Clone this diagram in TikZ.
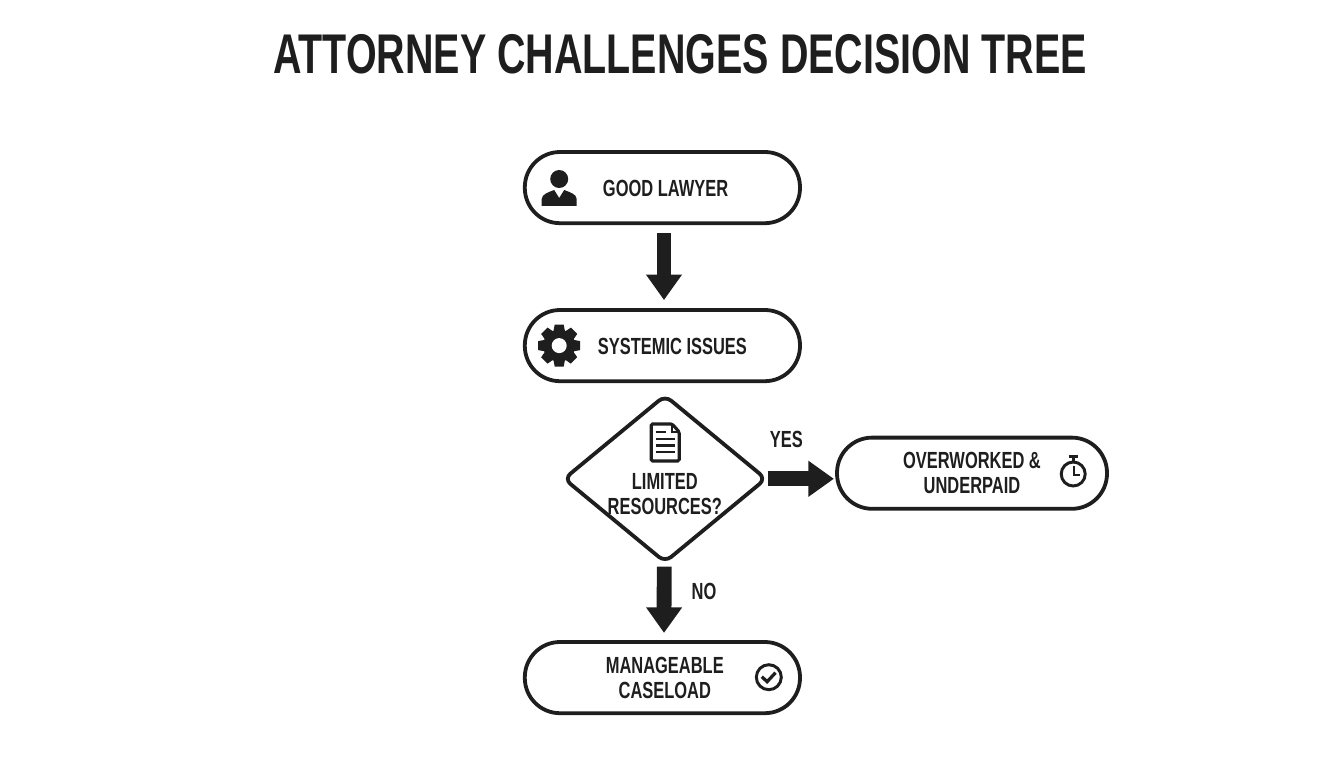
\documentclass[tikz,border=0pt]{standalone}
\usepackage{fontspec}
\setmainfont{Liberation Sans}[FakeStretch=0.705]
\usetikzlibrary{arrows.meta}
\usetikzlibrary{shapes.geometric}

\definecolor{ink}{HTML}{1E1E1E}

\tikzset{
    pill/.style={shape=rectangle, draw=ink, line width=2.7pt, fill=white, rounded corners=0.88cm, minimum width=6.88cm, minimum height=1.78cm},
    choice/.style={shape=diamond, draw=ink, line width=2.7pt, fill=white, rounded corners=0.2cm, inner sep=0pt, minimum width=5.08cm, minimum height=4.2cm},
    boxtext/.style={text=ink, font=\bfseries\fontsize{16.6}{17.8}\selectfont, align=center, inner sep=0pt},
    blockarrow/.style={draw=ink, line width=0.37cm, -{Triangle[length=0.64cm,width=0.86cm,fill=ink]}},
    person/.pic={
        \fill[ink] (0,11) circle (9);
        \fill[ink] (-17.5,-16) -- (-17.5,-9) .. controls (-17.5,-4) and (-10,-2) .. (-5,0) -- (0,-8) -- (5,0) .. controls (10,-2) and (17.5,-4) .. (17.5,-9) -- (17.5,-16) -- cycle;
    },
    gear/.pic={
        \fill[ink] (0,0) circle (16);
        \foreach \a in {0,45,...,315} {
            \fill[ink, rotate=\a] (13,-6) -- (21,-4.5) -- (21,4.5) -- (13,6) -- cycle;
        }
        \fill[white] (0,0) circle (7.5);
    },
    paper/.pic={
        \draw[ink, line width=2.2pt, rounded corners=1pt] (-14,18) -- (7,18) -- (14,10) -- (14,-19) -- (-14,-19) -- cycle;
        \draw[ink, line width=1.4pt] (7,18) -- (7,10) -- (14,10);
        \draw[ink, line width=1.6pt] (-9,10) -- (1,10);
        \foreach \h in {3,-3.5,-10} {
            \draw[ink, line width=1.6pt] (-9,\h) -- (10,\h);
        }
    },
    watch/.pic={
        \draw[ink, line width=2.1pt] (0,-2) circle (12);
        \draw[ink, line width=2.4pt] (-4.5,15.5) -- (4.5,15.5);
        \draw[ink, line width=2.1pt] (0,15.5) -- (0,10);
        \draw[ink, line width=1.8pt] (1,6) -- (1,-3) -- (7,-3);
    },
    tick/.pic={
        \draw[ink, line width=2.1pt] (0,0) circle (12.5);
        \draw[ink, line width=2.3pt] (-7,0.5) -- (-1.7,-4.5) -- (6.7,4.5);
    }
}

\begin{document}
\begin{tikzpicture}[scale=1]
        \useasboundingbox (0,0) rectangle (33.6,-19.2);

        % title
        \node (title) at (17,-1.36) [text=ink, font=\bfseries\fontsize{39.8}{44}\selectfont] {ATTORNEY CHALLENGES DECISION TREE};

        % boxes
        \node (lawyer) at (16.56,-4.69) [pill] {};
        \node (systemic) at (16.56,-8.64) [pill] {};
        \node (limited) at (16.625,-11.97) [choice] {};
        \node (overworked) at (24.3,-11.83) [pill, minimum width=6.75cm] {};
        \node (manageable) at (16.56,-16.94) [pill] {};

        % box texts
        \node (lawyertxt) at (16.64,-4.71) [boxtext] {GOOD LAWYER};
        \node (systemictxt) at (16.81,-8.66) [boxtext] {SYSTEMIC ISSUES};
        \node (limitedtxt) at (16.62,-12.35) [boxtext] {LIMITED\\RESOURCES?};
        \node (overworkedtxt) at (24.3,-11.82) [boxtext] {OVERWORKED \&\\UNDERPAID};
        \node (manageabletxt) at (16.62,-16.95) [boxtext] {MANAGEABLE\\CASELOAD};

        % branch labels
        \node (yes) at (19.66,-10.98) [boxtext] {YES};
        \node (no) at (17.6,-14.78) [boxtext] {NO};

        % icons
        \pic[scale=0.025] at (13.98,-4.75) {person};
        \pic[scale=0.025] at (13.98,-8.64) {gear};
        \pic[scale=0.025] at (16.63,-11.05) {paper};
        \pic[scale=0.025] at (26.83,-11.8) {watch};
        \pic[scale=0.025] at (19.22,-16.93) {tick};

        % connections
        \draw[blockarrow, shorten <=0.2cm, shorten >=0.2cm] ([xshift=0.04cm]lawyer.south) -- ([xshift=0.04cm]systemic.north);
        \draw[blockarrow, shorten <=0.05cm, shorten >=0.18cm] ([xshift=-0.02cm]limited.south) -- ([xshift=0.04cm]manageable.north);
        \draw[blockarrow, shorten <=-0.02cm, shorten >=0.03cm] (limited.east) -- (limited.east -| overworked.west);
\end{tikzpicture}
\end{document}
